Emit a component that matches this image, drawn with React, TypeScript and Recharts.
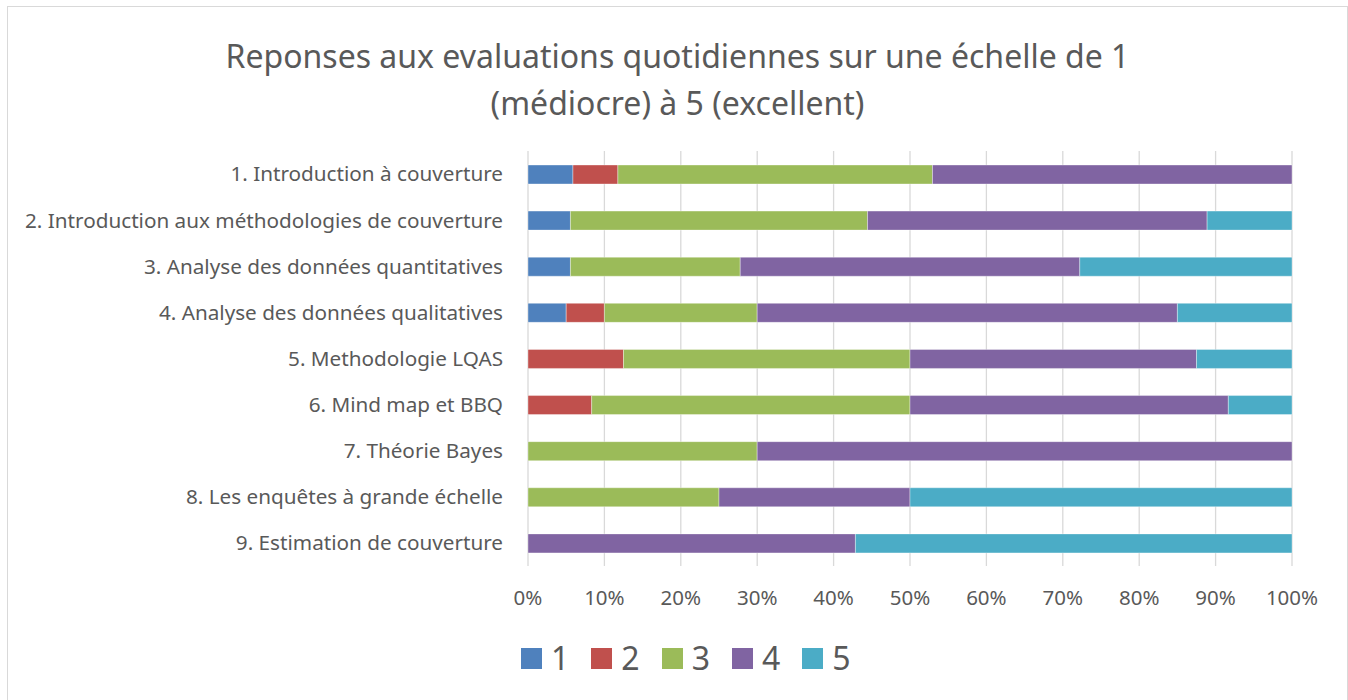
import React from 'react';
import { BarChart, Bar, XAxis, YAxis, CartesianGrid } from 'recharts';

const categories = [
  '1. Introduction à couverture',
  '2. Introduction aux méthodologies de couverture',
  '3. Analyse des données quantitatives',
  '4. Analyse des données qualitatives',
  '5. Methodologie LQAS',
  '6. Mind map et BBQ',
  '7. Théorie Bayes',
  '8. Les enquêtes à grande échelle',
  '9. Estimation de couverture',
];

// number of answers per score, one value per session
const score1 = [1, 1, 1, 1, 0, 0, 0, 0, 0];
const score2 = [1, 0, 0, 1, 1, 1, 0, 0, 0];
const score3 = [7, 7, 4, 4, 3, 5, 3, 1, 0];
const score4 = [8, 8, 8, 11, 3, 5, 7, 1, 3];
const score5 = [0, 2, 5, 3, 1, 1, 0, 2, 4];

const scoreLabels = ['1', '2', '3', '4', '5'];
const colors = ['#4F81BD', '#C0504D', '#9BBB59', '#8064A2', '#4BACC6'];
const xTicks = [0, 0.1, 0.2, 0.3, 0.4, 0.5, 0.6, 0.7, 0.8, 0.9, 1];

const FONT = '"Noto Sans", "Open Sans", sans-serif';
const TEXT = '#595959';

const chartData = categories.map((name, i) => ({
  name,
  '1': score1[i],
  '2': score2[i],
  '3': score3[i],
  '4': score4[i],
  '5': score5[i],
}));

export default function App() {
  return (
    <div
      style={{
        position: 'absolute',
        left: 7,
        top: 6,
        width: 1341,
        height: 700,
        border: '1px solid #d9d9d9',
        boxSizing: 'border-box',
        background: '#fff',
        fontFamily: FONT,
        color: TEXT,
      }}
    >
      <div
        style={{
          position: 'absolute',
          left: 0,
          right: 0,
          top: 25,
          textAlign: 'center',
          fontSize: 32,
          lineHeight: '47px',
        }}
      >
        Reponses aux evaluations quotidiennes sur une échelle de 1
        <br />
        (médiocre) à 5 (excellent)
      </div>

      <div style={{ position: 'absolute', left: 0, top: 0 }}>
        <BarChart
          width={1339}
          height={630}
          data={chartData}
          layout="vertical"
          stackOffset="expand"
          margin={{ top: 144, right: 55, bottom: 30, left: 20 }}
        >
          <CartesianGrid horizontal={false} stroke="#d9d9d9" strokeWidth={1.3} />
          <XAxis
            type="number"
            domain={[0, 1]}
            ticks={xTicks}
            tickFormatter={(v: number) => `${Math.round(v * 100)}%`}
            axisLine={false}
            tickLine={false}
            tickSize={0}
            tickMargin={24}
            height={41}
            interval={0}
            tick={{ fill: TEXT, fontSize: 20.5, fontFamily: FONT }}
          />
          <YAxis
            type="category"
            dataKey="name"
            width={500}
            axisLine={false}
            tickLine={false}
            tickSize={0}
            tickMargin={25}
            interval={0}
            tick={{ fill: TEXT, fontSize: 20.7, fontFamily: FONT }}
          />
          {scoreLabels.map((s, i) => (
            <Bar
              key={s}
              dataKey={s}
              stackId="a"
              fill={colors[i]}
              barSize={19}
              stroke="#ffffff"
              strokeWidth={0.6}
              strokeOpacity={0.6}
              isAnimationActive={false}
            />
          ))}
        </BarChart>
      </div>

      <div
        style={{
          position: 'absolute',
          top: 632,
          left: 513,
          display: 'flex',
          alignItems: 'center',
          fontSize: 32,
          lineHeight: '38px',
        }}
      >
        {scoreLabels.map((s, i) => (
          <div key={s} style={{ display: 'flex', alignItems: 'center', marginRight: 22 }}>
            <span
              style={{
                display: 'inline-block',
                width: 21,
                height: 21,
                background: colors[i],
                marginRight: 9,
              }}
            />
            <span>{s}</span>
          </div>
        ))}
      </div>
    </div>
  );
}
